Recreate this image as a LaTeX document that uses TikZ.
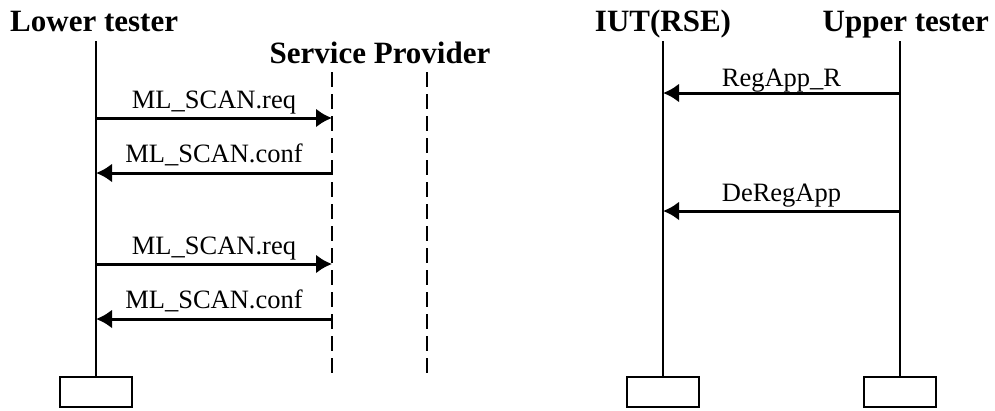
\documentclass[tikz,border=0pt]{standalone}
\usepackage{fontspec}
\setmainfont{Liberation Serif}
\usetikzlibrary{arrows.meta}
\begin{document}
\begin{tikzpicture}[x=1pt,y=-1pt,
  title/.style={font=\fontsize{31}{36}\selectfont\bfseries, inner sep=0pt},
  msg/.style={font=\fontsize{26.5}{30}\selectfont, inner sep=0pt, anchor=base},
  lifeline/.style={line width=2.6pt},
  provline/.style={line width=2.2pt, dash pattern=on 15pt off 7pt},
  endbox/.style={draw, line width=2.6pt, minimum width=72pt, minimum height=30pt, inner sep=0pt},
  arrowline/.style={line width=3pt, -{Latex[length=16pt,width=19pt]}}]
  \useasboundingbox (0,0) rectangle (995,410);

  % entity headings
  \node[title, anchor=base west] (lt) at (10,31) {Lower tester};
  \node[title, anchor=base] (sp) at (380,63) {Service Provider};
  \node[title, anchor=base] (iut) at (663,31) {IUT(RSE)};
  \node[title, anchor=base east] (ut) at (989,31) {Upper tester};

  % terminating boxes
  \node[endbox] (ltbox) at (96,392) {};
  \node[endbox] (iutbox) at (663,392) {};
  \node[endbox] (utbox) at (900,392) {};

  % lifeline tops and provider lines
  \coordinate (lttop) at (96,41);
  \coordinate (iuttop) at (663,41);
  \coordinate (uttop) at (900,41);
  \coordinate (spatop) at (332,72);
  \coordinate (spabot) at (332,378);
  \coordinate (spbtop) at (427,72);
  \coordinate (spbbot) at (427,378);

  \draw[lifeline] (lttop) -- (ltbox.north);
  \draw[lifeline] (iuttop) -- (iutbox.north);
  \draw[lifeline] (uttop) -- (utbox.north);
  \draw[provline] (spatop) -- (spabot);
  \draw[provline] (spbtop) -- (spbbot);

  % message end points on the lifelines
  \foreach \n/\y in {1/118, 2/173, 3/264, 4/319} {
    \coordinate (lt\n) at (96,\y);
    \coordinate (sp\n) at (332,\y);
  }
  \coordinate (iut1) at (663,93);
  \coordinate (ut1) at (900,93);
  \coordinate (iut2) at (663,211);
  \coordinate (ut2) at (900,211);

  % messages
  \draw[arrowline] (lt1) -- node[msg, yshift=10pt] (m1) {ML\_SCAN.req} (sp1);
  \draw[arrowline] (sp2) -- node[msg, yshift=11pt] (m2) {ML\_SCAN.conf} (lt2);
  \draw[arrowline] (lt3) -- node[msg, yshift=10pt] (m3) {ML\_SCAN.req} (sp3);
  \draw[arrowline] (sp4) -- node[msg, yshift=11pt] (m4) {ML\_SCAN.conf} (lt4);
  \draw[arrowline] (ut1) -- node[msg, yshift=7pt] (m5) {RegApp\_R} (iut1);
  \draw[arrowline] (ut2) -- node[msg, yshift=10pt] (m6) {DeRegApp} (iut2);
\end{tikzpicture}
\end{document}
